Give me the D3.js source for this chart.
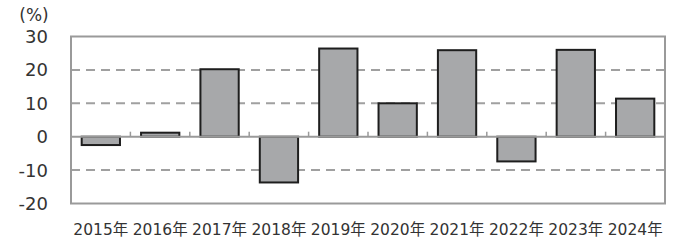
<!DOCTYPE html>
<html lang="ja">

<head>
    <meta charset="UTF-8">
    <title>年別変化率</title>
    <script src="https://cdn.jsdelivr.net/npm/d3@7"></script>
    <style>
        * {
            margin: 0;
            padding: 0;
        }

        body {
            background: #fff;
        }
    </style>
</head>

<body>
    <script>
        const years = ["2015年", "2016年", "2017年", "2018年", "2019年", "2020年", "2021年", "2022年", "2023年", "2024年"];
        const values = [-2.5, 1.2, 20.2, -13.7, 26.4, 10.0, 25.9, -7.4, 26.0, 11.4];
        const yTicks = [30, 20, 10, 0, -10, -20];
        const unitLabel = "(%)";

        const width = 677, height = 240;
        const plotLeft = 71, plotRight = 665, plotTop = 36.5, plotBottom = 203.5;

        const svg = d3.select("body").append("svg")
            .attr("width", width)
            .attr("height", height);

        const x = d3.scaleBand().domain(years).range([plotLeft, plotRight]).paddingInner(0.355).paddingOuter(0.18);
        const y = d3.scaleLinear().domain([-20, 30]).range([plotBottom, plotTop]);

        const font = "'DejaVu Sans', 'Noto Sans CJK JP', sans-serif";

        // 補助線(破線)
        svg.append("g")
            .selectAll("line")
            .data(yTicks.filter(d => d !== 0 && d !== 30 && d !== -20))
            .join("line")
            .attr("x1", plotLeft)
            .attr("x2", plotRight)
            .attr("y1", d => y(d))
            .attr("y2", d => y(d))
            .attr("stroke", "#a0a0a0")
            .attr("stroke-width", 2)
            .attr("stroke-dasharray", "9,6");

        // 棒
        svg.append("g")
            .selectAll("rect")
            .data(values)
            .join("rect")
            .attr("x", (d, i) => x(years[i]))
            .attr("width", x.bandwidth())
            .attr("y", d => y(Math.max(0, d)))
            .attr("height", d => Math.abs(y(d) - y(0)))
            .attr("fill", "#a7a8aa")
            .attr("stroke", "#1e1e1e")
            .attr("stroke-width", 2);

        // 外枠
        svg.append("rect")
            .attr("x", plotLeft)
            .attr("y", plotTop)
            .attr("width", plotRight - plotLeft)
            .attr("height", plotBottom - plotTop)
            .attr("fill", "none")
            .attr("stroke", "#9a9a9a")
            .attr("stroke-width", 2);

        // ゼロ線と目盛り
        svg.append("line")
            .attr("x1", plotLeft)
            .attr("x2", plotRight)
            .attr("y1", y(0))
            .attr("y2", y(0))
            .attr("stroke", "#9a9a9a")
            .attr("stroke-width", 2);

        const step = (plotRight - plotLeft) / years.length;
        svg.append("g")
            .selectAll("line")
            .data(d3.range(1, years.length))
            .join("line")
            .attr("x1", d => plotLeft + d * step)
            .attr("x2", d => plotLeft + d * step)
            .attr("y1", y(0))
            .attr("y2", y(0) - 5)
            .attr("stroke", "#9a9a9a")
            .attr("stroke-width", 1.5);

        // Y軸ラベル
        svg.append("g")
            .selectAll("text")
            .data(yTicks)
            .join("text")
            .attr("x", 48)
            .attr("y", d => y(d))
            .attr("dy", "0.36em")
            .attr("text-anchor", "end")
            .attr("font-family", font)
            .attr("font-size", 18)
            .attr("fill", "#333")
            .text(d => d);

        svg.append("text")
            .attr("x", 34)
            .attr("y", 21)
            .attr("text-anchor", "middle")
            .attr("font-family", font)
            .attr("font-size", 17)
            .attr("fill", "#333")
            .text(unitLabel);

        // X軸ラベル
        svg.append("g")
            .selectAll("text")
            .data(years)
            .join("text")
            .attr("x", d => x(d) + x.bandwidth() / 2)
            .attr("y", 235)
            .attr("text-anchor", "middle")
            .attr("font-family", font)
            .attr("font-size", 15.5)
            .attr("fill", "#333")
            .text(d => d);
    </script>
</body>

</html>
